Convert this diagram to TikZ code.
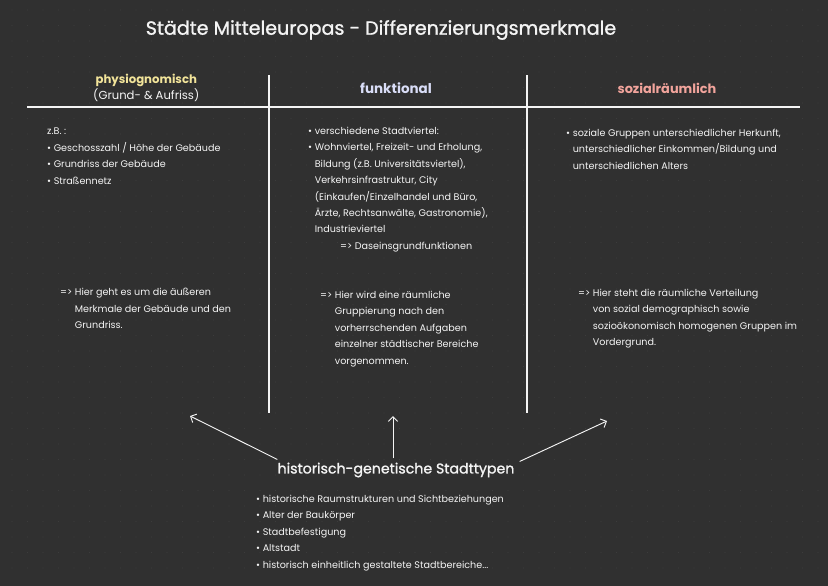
\documentclass[tikz,border=0pt]{standalone}
\usepackage{fontspec}
\usepackage{tikz}
\usepackage{xcolor}
\usetikzlibrary{arrows.meta}
\setmainfont{Poppins}
\newfontfamily\chalkheavy{Poppins}[FakeBold = 1.2]
\definecolor{Board}{HTML}{303030}
\definecolor{BoardDot}{HTML}{3C3C3C}
\definecolor{Chalk}{HTML}{F4F4F4}
\definecolor{HeadYellow}{HTML}{F2E49A}
\definecolor{HeadBlue}{HTML}{D9DDF7}
\definecolor{HeadRed}{HTML}{F2A49C}
\colorlet{LineWhite}{Chalk}

\begin{document}
\begin{tikzpicture}[x = 0.03cm, y = -0.03cm]
                    % board
                    \fill[Board] (0, 0) rectangle (828, 586);
                    \useasboundingbox (0, 0) rectangle (828, 586);
                    \foreach \gx in {12, 27.5, ..., 820} {
                        \foreach \gy in {10, 25.5, ..., 580} {
                            \fill[BoardDot] (\gx, \gy) circle (0.6);
                        }
                    }

                    \coordinate (TopLeft)   at ( 27, 107);
                    \coordinate (TopRight)  at (800, 107);
                    \coordinate (SepAtop)   at (269,  75);
                    \coordinate (SepAbot)   at (269, 413);
                    \coordinate (SepBtop)   at (527,  75);
                    \coordinate (SepBbot)   at (527, 413);

                    \draw[LineWhite, line width = 1.6pt]
                        (TopLeft) -- (TopRight)
                        (SepAtop) -- (SepAbot)
                        (SepBtop) -- (SepBbot)
                    ;

                    % headings
                    \begin{scope}[
                        every node/.style = {
                            inner sep = 0pt,
                            align     = center,
                        }
                    ]
                        \node (title) at (381, 30) [text = Chalk, font = \chalkheavy\fontsize{16.3}{18}\selectfont] {Städte Mitteleuropas - Differenzierungsmerkmale};
                        \node (physio) at (93, 88) [anchor = west, align = left, text = Chalk, font = \fontsize{9.9}{14}\selectfont] {\hspace{2pt}\textcolor{HeadYellow}{\fontsize{10}{14}\selectfont\bfseries physiognomisch}\\(Grund- \& Aufriss)};
                        \node (funk) at (396, 88) [text = HeadBlue, font = \fontsize{11.5}{14}\selectfont\bfseries] {funktional};
                        \node (sozial) at (667, 88) [text = HeadRed, font = \fontsize{11}{14}\selectfont\bfseries] {sozialräumlich};
                        \node (histo) at (396, 470) [text = Chalk, font = \chalkheavy\fontsize{12.1}{14}\selectfont] {historisch-genetische Stadttypen};
                    \end{scope}

                    % lists
                    \begin{scope}[
                        every node/.style = {
                            inner sep = 0pt,
                            anchor    = north west,
                            align     = left,
                            text      = Chalk,
                            font      = \fontsize{8.2}{14}\selectfont,
                        }
                    ]
                        \node (physioList) at (47, 128) {z.B. :\\
                            • Geschosszahl / Höhe der Gebäude\\
                            • Grundriss der Gebäude\\
                            • Straßennetz};
                        \node (funkList) at (308, 127) {• verschiedene Stadtviertel:\\
                            • Wohnviertel, Freizeit- und Erholung,\\
                            \hphantom{• }Bildung (z.B. Universitätsviertel),\\
                            \hphantom{• }Verkehrsinfrastruktur, City\\
                            \hphantom{• }(Einkaufen/Einzelhandel und Büro,\\
                            \hphantom{• }Ärzte, Rechtsanwälte, Gastronomie),\\
                            \hphantom{• }Industrieviertel\\
                            \hspace{0.96cm}=> Daseinsgrundfunktionen};
                        \node (sozialList) at (566, 129) {• soziale Gruppen unterschiedlicher Herkunft,\\
                            \hphantom{• }unterschiedlicher Einkommen/Bildung und\\
                            \hphantom{• }unterschiedlichen Alters};
                        \node (physioNote) at (60, 288) {=> Hier geht es um die äußeren\\
                            \hphantom{=> }Merkmale der Gebäude und den\\
                            \hphantom{=> }Grundriss.};
                        \node (funkNote) at (320, 291) {=> Hier wird eine räumliche\\
                            \hphantom{=> }Gruppierung nach den\\
                            \hphantom{=> }vorherrschenden Aufgaben\\
                            \hphantom{=> }einzelner städtischer Bereiche\\
                            \hphantom{=> }vorgenommen.};
                        \node (sozialNote) at (578, 289) {=> Hier steht die räumliche Verteilung\\
                            \hphantom{=> }von sozial demographisch sowie\\
                            \hphantom{=> }sozioökonomisch homogenen Gruppen im\\
                            \hphantom{=> }Vordergrund.};
                        \node (histoList) at (256, 495) {• historische Raumstrukturen und Sichtbeziehungen\\
                            • Alter der Baukörper\\
                            • Stadtbefestigung\\
                            • Altstadt\\
                            • historisch einheitlich gestaltete Stadtbereiche...};
                    \end{scope}

                    % arrows
                    \coordinate (ArrowA) at (190, 416);
                    \coordinate (ArrowB) at (393, 416);
                    \coordinate (ArrowC) at (607, 421);
                    \draw[LineWhite, line width = 0.8pt, -{Straight Barb[length = 4pt]}]
                        (histo.north west) ++(0, -3) -- (ArrowA);
                    \draw[LineWhite, line width = 0.8pt, -{Straight Barb[length = 4pt]}]
                        (histo.north -| ArrowB) ++(0, -4) -- (ArrowB);
                    \draw[LineWhite, line width = 0.8pt, -{Straight Barb[length = 4pt]}]
                        (histo.north east) ++(5, -1) -- (ArrowC);
                \end{tikzpicture}
\end{document}
